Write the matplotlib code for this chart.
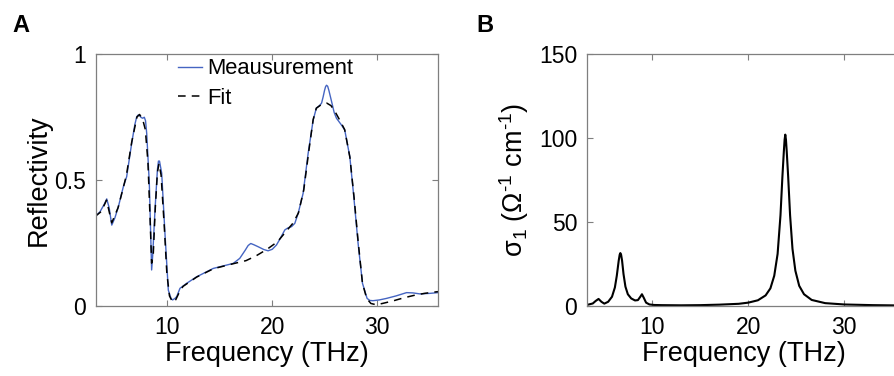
import matplotlib
matplotlib.use("Agg")
import matplotlib.pyplot as plt

plt.rcParams.update({
    "font.family": ["Liberation Sans", "DejaVu Sans"],
    "mathtext.fontset": "custom",
    "mathtext.rm": "Liberation Sans",
    "mathtext.it": "Liberation Sans:italic",
    "axes.unicode_minus": False,
    "axes.linewidth": 0.9,
})

# ---- panel A: reflectivity ----
meas_freq = [3.1, 3.58, 4.0, 4.22, 4.45, 4.7, 5.0, 5.33, 5.8, 6.12, 6.6, 6.9, 7.08,
             7.22, 7.33, 7.5, 7.65, 7.8, 7.92, 8.03, 8.28, 8.42, 8.5, 8.6, 8.82,
             9.05, 9.15, 9.25, 9.46, 9.77, 10.09, 10.35, 10.5, 10.72, 10.89, 11.2,
             11.84, 12.8, 14.37, 16.28, 16.9, 17.4, 17.7, 17.95, 18.25, 18.66,
             19.2, 19.6, 20.0, 20.4, 20.72, 21.2, 21.5, 21.84, 22.15, 22.47,
             22.94, 23.42, 23.9, 24.2, 24.5, 24.7, 24.85, 24.98, 25.08, 25.17,
             25.28, 25.4, 25.65, 25.9, 26.12, 26.6, 26.91, 27.39, 27.77, 28.18,
             28.6, 29.04, 29.3, 29.6, 30.2, 30.88, 31.8, 32.8, 33.4, 34.06, 35.0,
             35.8]
meas_refl = [0.354, 0.374, 0.405, 0.425, 0.39, 0.321, 0.35, 0.394, 0.473, 0.513,
             0.646, 0.72, 0.751, 0.758, 0.756, 0.748, 0.745, 0.749, 0.735, 0.685,
             0.487, 0.27, 0.143, 0.2, 0.381, 0.54, 0.575, 0.575, 0.527, 0.288,
             0.063, 0.03, 0.024, 0.03, 0.037, 0.07, 0.09, 0.116, 0.149, 0.169,
             0.189, 0.22, 0.24, 0.248, 0.243, 0.235, 0.224, 0.219, 0.225, 0.242,
             0.265, 0.302, 0.31, 0.315, 0.328, 0.368, 0.447, 0.606, 0.738, 0.785,
             0.795, 0.805, 0.83, 0.855, 0.87, 0.876, 0.872, 0.855, 0.812, 0.768,
             0.745, 0.718, 0.698, 0.593, 0.434, 0.249, 0.09, 0.03, 0.022, 0.021,
             0.024, 0.03, 0.04, 0.053, 0.052, 0.048, 0.05, 0.053]

fit_freq = [3.1, 3.7, 4.2, 4.7, 5.3, 5.8, 6.1, 6.6, 7.1, 7.35, 7.65, 7.9, 8.15, 8.35,
            8.5, 8.65, 8.85, 9.05, 9.2, 9.4, 9.7, 9.95, 10.2, 10.5, 10.8, 11.2,
            11.5, 12.8, 14.4, 16.3, 17.5, 18.5, 19.5, 20.5, 21.4, 22.0, 22.5,
            23.0, 23.5, 23.9, 24.2, 24.7, 25.2, 25.6, 26.0, 26.4, 26.9, 27.4,
            27.8, 28.2, 28.6, 29.0, 29.4, 29.9, 30.5, 31.5, 32.5, 33.5, 34.5,
            35.8]
fit_refl = [0.355, 0.375, 0.42, 0.33, 0.39, 0.47, 0.52, 0.65, 0.75, 0.76, 0.74,
            0.70, 0.57, 0.35, 0.17, 0.2, 0.39, 0.53, 0.565, 0.52, 0.32, 0.13,
            0.04, 0.015, 0.025, 0.06, 0.078, 0.115, 0.148, 0.168, 0.18, 0.2,
            0.225, 0.255, 0.3, 0.33, 0.37, 0.46, 0.62, 0.74, 0.785, 0.8, 0.805,
            0.795, 0.77, 0.74, 0.70, 0.59, 0.43, 0.25, 0.09, 0.03, 0.01, 0.005,
            0.01, 0.02, 0.032, 0.042, 0.05, 0.057]

# ---- panel B: optical conductivity ----
sig_freq = [3.1, 3.8, 4.1, 4.4, 4.7, 5.0, 5.4, 5.8, 6.1, 6.3, 6.5, 6.6, 6.67, 6.75,
            6.85, 7.0, 7.2, 7.45, 7.8, 8.2, 8.5, 8.75, 8.92, 9.1, 9.35, 9.7, 10.2,
            11.0, 13.0, 15.0, 17.0, 19.0, 20.0, 21.0, 21.8, 22.3, 22.7, 23.05,
            23.35, 23.55, 23.7, 23.78, 23.85, 23.92, 24.0, 24.15, 24.35, 24.6,
            24.9, 25.3, 25.8, 26.6, 28.0, 30.0, 33.0, 36.0]
sig_val = [0.5, 1.5, 3.0, 4.2, 2.5, 1.4, 2.5, 5.5, 11, 18, 27, 30.5, 31.5, 30.5,
           27, 19, 11.5, 7, 4.5, 3.3, 3.5, 5.5, 7.0, 5.0, 2.0, 0.9, 0.6, 0.5,
           0.4, 0.5, 0.8, 1.3, 2.0, 3.4, 6.3, 10.5, 18, 31, 54, 77, 92, 99, 102,
           99, 92, 77, 54, 34, 21, 12, 7, 3.6, 1.7, 0.9, 0.5, 0.3]

xticks = [10, 20, 30]
xlim = (3.2, 35.8)
box_color = "#7f7f7f"
blue = "#4565c2"

fig = plt.figure(figsize=(8.95, 3.76), dpi=100)
ax_a = fig.add_axes([0.1073, 0.1862, 0.3821, 0.6702])
ax_b = fig.add_axes([0.6559, 0.1862, 0.3497, 0.6702])


def style_axes(ax):
    ax.set_xlim(*xlim)
    ax.set_xticks(xticks)
    ax.tick_params(direction="in", top=True, right=True, length=4, width=0.8,
                   color=box_color, labelsize=16.5, pad=7, labelcolor="black")
    for sp in ax.spines.values():
        sp.set_color(box_color)
    ax.set_xlabel("Frequency (THz)", fontsize=19.5, labelpad=2)


ax_a.plot(meas_freq, meas_refl, color=blue, lw=1.0, label="Meausurement")
ax_a.plot(fit_freq, fit_refl, color="black", lw=1.1, ls=(0, (5, 4)), label="Fit")
style_axes(ax_a)
ax_a.set_ylim(0, 1)
ax_a.set_yticks([0, 0.5, 1])
ax_a.set_yticklabels(["0", "0.5", "1"])
ax_a.set_ylabel("Reflectivity", fontsize=19.5, labelpad=2)
ax_a.legend(loc="upper left", bbox_to_anchor=(0.199, 0.845), bbox_transform=fig.transFigure,
            frameon=False, fontsize=15.8, handlelength=1.1, handletextpad=0.25,
            borderpad=0, borderaxespad=0, labelspacing=0.38)

ax_b.plot(sig_freq, sig_val, color="black", lw=1.5)
style_axes(ax_b)
ax_b.set_ylim(0, 150)
ax_b.set_yticks([0, 50, 100, 150])
ax_b.set_ylabel("\u03c3$_1$ (\u03a9$^{\\text{-1}}$ cm$^{\\text{-1}}$)", fontsize=19.5, labelpad=6)

fig.text(0.014, 0.915, "A", fontsize=17, fontweight="bold")
fig.text(0.532, 0.915, "B", fontsize=17, fontweight="bold")

fig.savefig("out.png", dpi=100)
